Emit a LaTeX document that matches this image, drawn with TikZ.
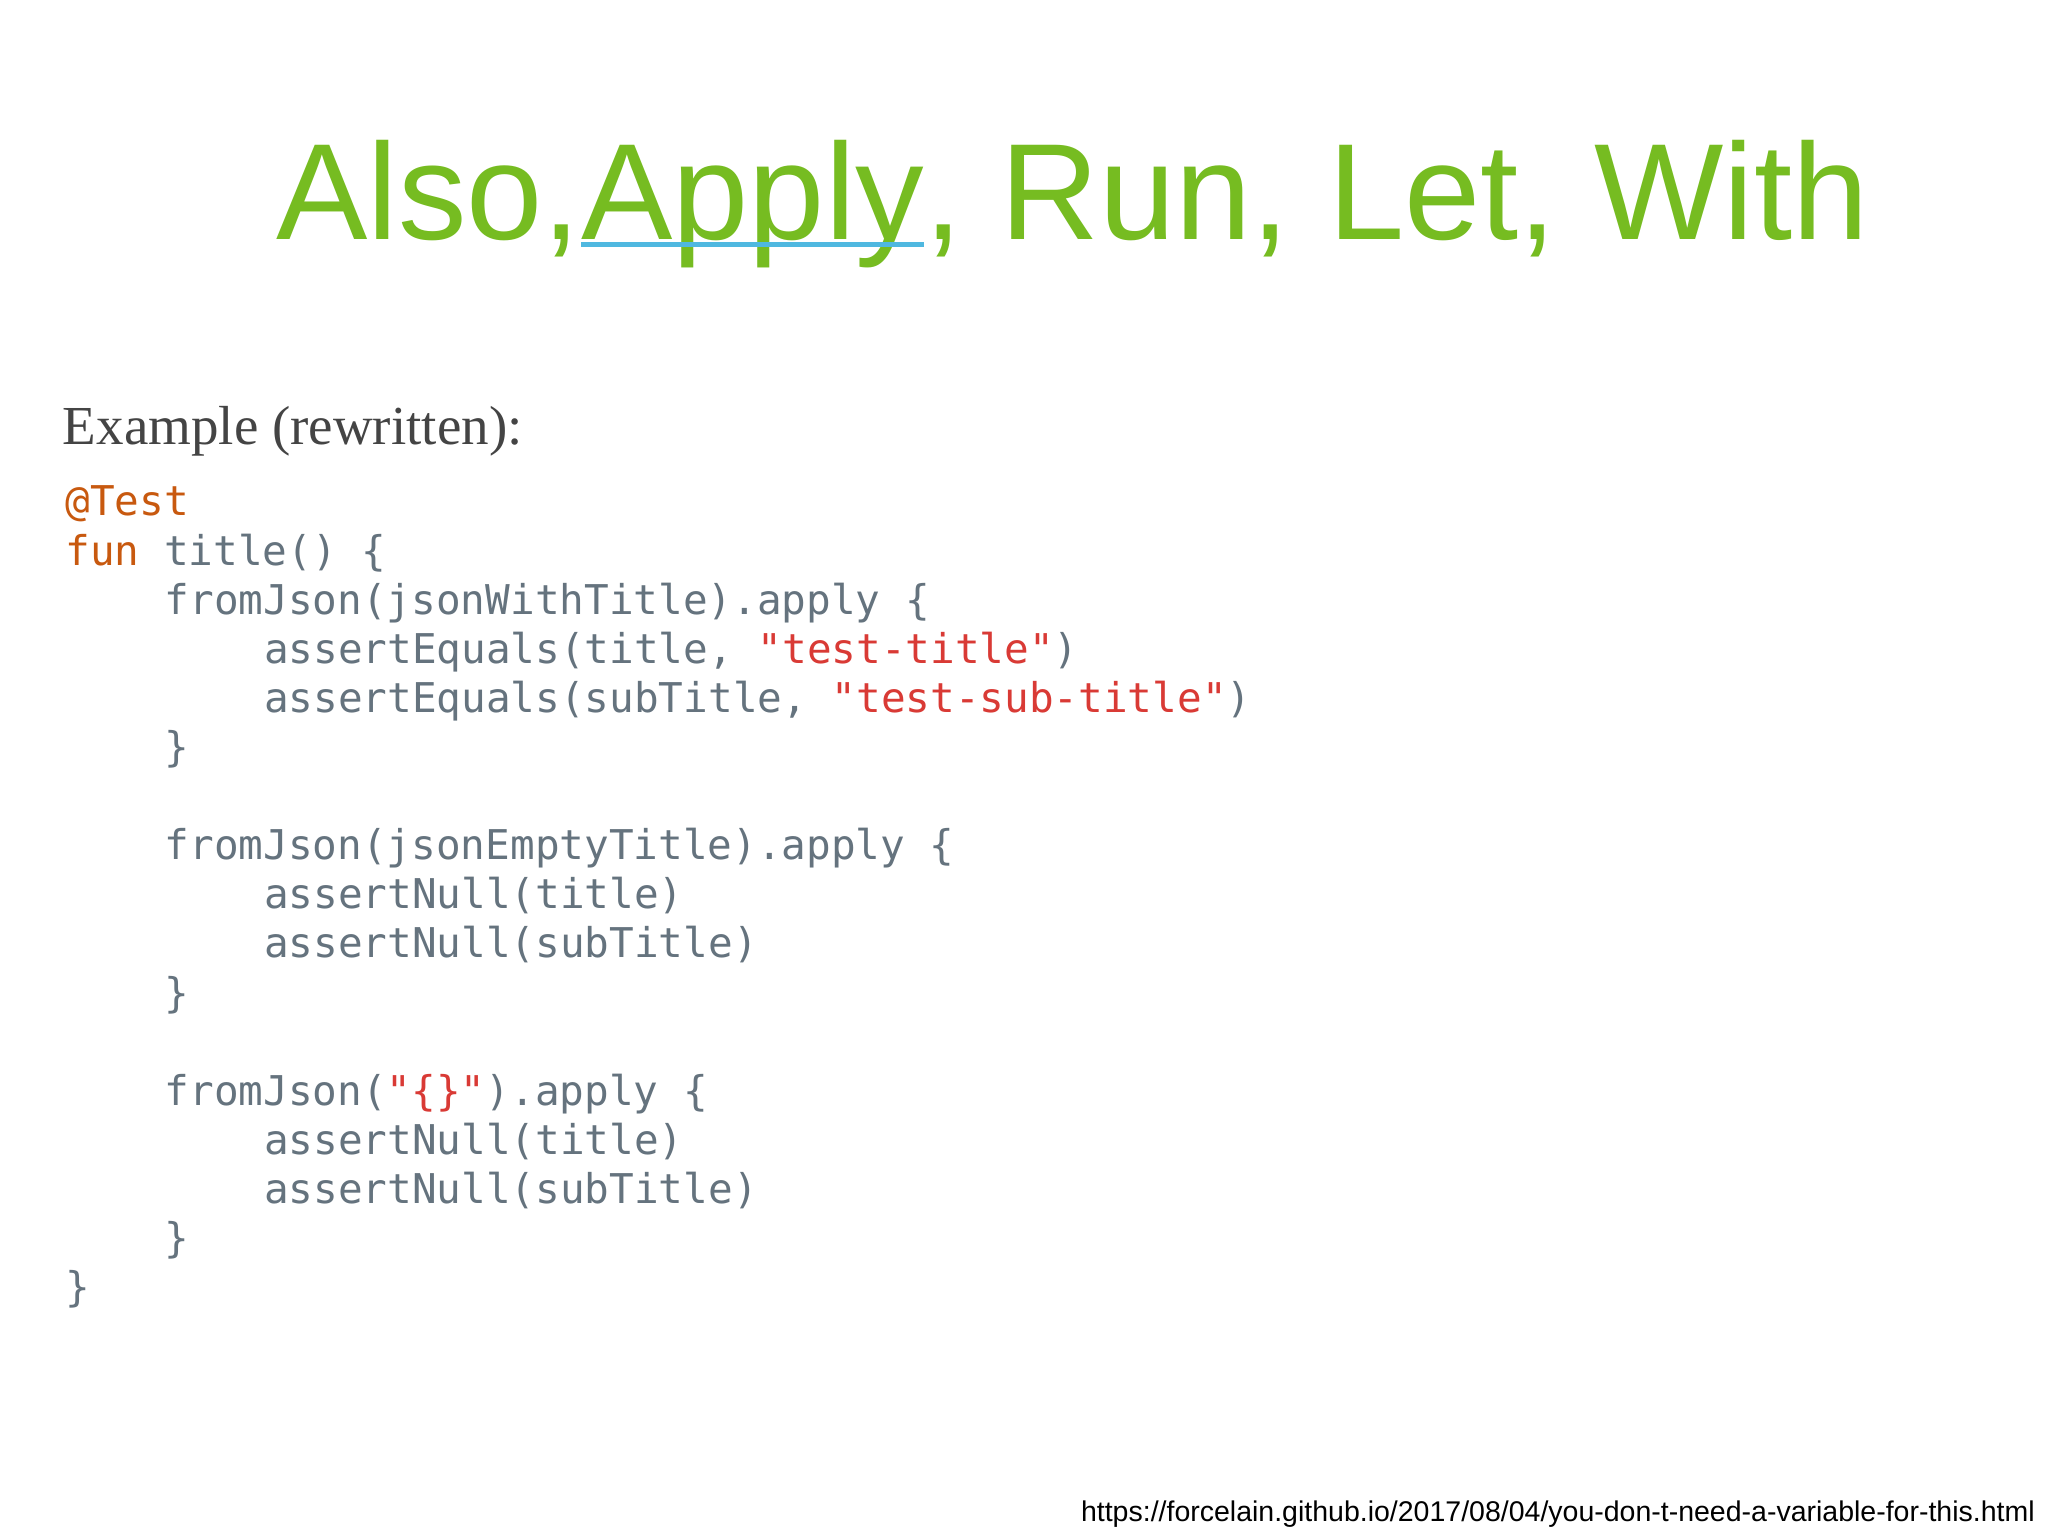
\documentclass[tikz,border=0pt]{standalone}
\usepackage{fontspec}
\setmainfont{Liberation Serif}
\setsansfont{Liberation Sans}
\setmonofont{DejaVu Sans Mono}
\definecolor{tgreen}{HTML}{76BC21}
\definecolor{tblue}{HTML}{4FB8E0}
\definecolor{cgray}{HTML}{65737E}
\definecolor{corange}{HTML}{C8590F}
\definecolor{cred}{HTML}{D93A35}
\definecolor{egray}{HTML}{444444}
\tikzset{
  code/.style={anchor=base west,inner sep=0pt,text=cgray,font=\ttfamily\fontsize{41}{41}\selectfont},
  ttl/.style={inner sep=0pt,text=tgreen,font=\sffamily\fontsize{137}{137}\selectfont}
}
\begin{document}
\begin{tikzpicture}[x=1.3061pt,y=-1.3061pt]
\useasboundingbox[fill=white] (0,0) rectangle (1568,1176.8);
\node[ttl,anchor=base west] (ap) at (445,183) {Apply};
\node[ttl,anchor=base east] (t1) at (ap.base west) {Also,\ };
\node[ttl,anchor=base west] (t2) at (ap.base east) {, Run, Let, With};
\draw[tblue,line width=5pt] ([yshift=-5pt]ap.base west) -- ([yshift=-5pt]ap.base east);
\node[anchor=base west,inner sep=0pt,text=egray,font=\fontsize{55}{55}\selectfont] (ex) at (48,340) {Example (rewritten):};
\def\L{37.6}
\node[code] (c1) at (50,395) {\textcolor{corange}{@Test}};
\node[code] (c2) at (50,395+\L) {\textcolor{corange}{fun} title() \{};
\node[code] (c3) at (126,395+2*\L) {fromJson(jsonWithTitle).apply \{};
\node[code] (c4) at (202,395+3*\L) {assertEquals(title, \textcolor{cred}{"test-title"})};
\node[code] (c5) at (202,395+4*\L) {assertEquals(subTitle, \textcolor{cred}{"test-sub-title"})};
\node[code] (c6) at (126,395+5*\L) {\}};
\node[code] (c7) at (126,395+7*\L) {fromJson(jsonEmptyTitle).apply \{};
\node[code] (c8) at (202,395+8*\L) {assertNull(title)};
\node[code] (c9) at (202,395+9*\L) {assertNull(subTitle)};
\node[code] (c10) at (126,395+10*\L) {\}};
\node[code] (c11) at (126,395+12*\L) {fromJson(\textcolor{cred}{"\{\}"}).apply \{};
\node[code] (c12) at (202,395+13*\L) {assertNull(title)};
\node[code] (c13) at (202,395+14*\L) {assertNull(subTitle)};
\node[code] (c14) at (126,395+15*\L) {\}};
\node[code] (c15) at (50,395+16*\L) {\}};
\node[anchor=base east,inner sep=0pt,font=\sffamily\fontsize{28.5}{28.5}\selectfont] (url) at (1558,1165) {https://forcelain.github.io/2017/08/04/you-don-t-need-a-variable-for-this.html};
\end{tikzpicture}
\end{document}
